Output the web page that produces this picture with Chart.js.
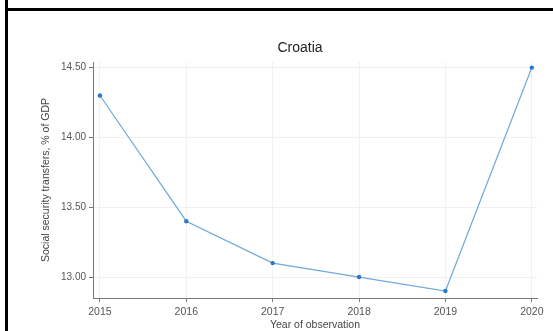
<!DOCTYPE html>
<html>
<head>
<meta charset="utf-8">
<script src="https://cdn.jsdelivr.net/npm/chart.js@4/dist/chart.umd.min.js"></script>
<style>
  html, body { margin: 0; padding: 0; background: #fff; }
  #wrap { position: relative; width: 553px; height: 331px; overflow: hidden; }
  #frameLeft { position: absolute; left: 5px; top: 0; width: 3px; height: 331px; background: #000; }
  #frameTop { position: absolute; left: 5px; top: 8px; width: 548px; height: 3px; background: #000; }
  canvas { position: absolute; left: 0; top: 0; }
</style>
</head>
<body>
<div id="wrap">
  <canvas id="c" width="553" height="331"></canvas>
  <div id="frameLeft"></div>
  <div id="frameTop"></div>
</div>
<script>
// Croatia: social security transfers as a share of GDP
const years = [2015, 2016, 2017, 2018, 2019, 2020];
const transfers = [14.3, 13.4, 13.1, 13.0, 12.9, 14.5];
const yTicks = [13.0, 13.5, 14.0, 14.5];
const chartTitle = 'Croatia';
const xTitle = 'Year of observation';
const yTitle = 'Social security transfers, % of GDP';

const FONT = 'Arial, "Liberation Sans", sans-serif';

// Title centred over the graph region (axis titles included)
const titlePlugin = {
  id: 'plotTitle',
  afterDraw(chart) {
    const { ctx } = chart;
    ctx.save();
    ctx.font = '14px ' + FONT;
    ctx.fillStyle = '#222';
    ctx.textAlign = 'center';
    ctx.textBaseline = 'middle';
    ctx.fillText(chartTitle, 300, 48);
    ctx.restore();
  }
};

new Chart(document.getElementById('c'), {
  type: 'line',
  data: {
    datasets: [{
      data: years.map((y, i) => ({ x: y, y: transfers[i] })),
      borderColor: '#6fa9dc',
      borderWidth: 1.2,
      pointBackgroundColor: '#2a78c8',
      pointBorderColor: '#2a78c8',
      pointRadius: 2.2,
      pointBorderWidth: 0,
      tension: 0,
      fill: false
    }]
  },
  options: {
    responsive: false,
    animation: false,
    layout: { padding: { top: 62, right: 16, left: 0, bottom: 0 } },
    plugins: { legend: { display: false }, tooltip: { enabled: false } },
    scales: {
      x: {
        type: 'linear',
        min: 2014.92,
        max: 2020.06,
        afterBuildTicks(scale) { scale.ticks = years.map(v => ({ value: v })); },
        afterFit(scale) { scale.height = 33; },
        ticks: {
          font: { size: 10.5, family: FONT },
          color: '#555',
          padding: 4,
          maxRotation: 0,
          callback: v => String(v)
        },
        grid: { color: '#f1f1f1', tickColor: '#777', tickLength: 4, lineWidth: 1 },
        border: { color: '#777', width: 1 },
        title: {
          display: true,
          text: xTitle,
          font: { size: 10.5, family: FONT },
          color: '#444',
          padding: { top: 0, bottom: 0 }
        }
      },
      y: {
        type: 'linear',
        min: 12.85,
        max: 14.54,
        afterBuildTicks(scale) { scale.ticks = yTicks.map(v => ({ value: v })); },
        afterFit(scale) { scale.width = 93; },
        ticks: {
          font: { size: 10, family: FONT },
          color: '#555',
          padding: 3,
          callback: v => v.toFixed(2)
        },
        grid: { color: '#f1f1f1', tickColor: '#777', tickLength: 4, lineWidth: 1 },
        border: { color: '#777', width: 1 },
        title: {
          display: true,
          text: yTitle,
          font: { size: 10.5, family: FONT },
          color: '#444',
          padding: { top: 40, bottom: 0 }
        }
      }
    }
  },
  plugins: [titlePlugin]
});
</script>
</body>
</html>
